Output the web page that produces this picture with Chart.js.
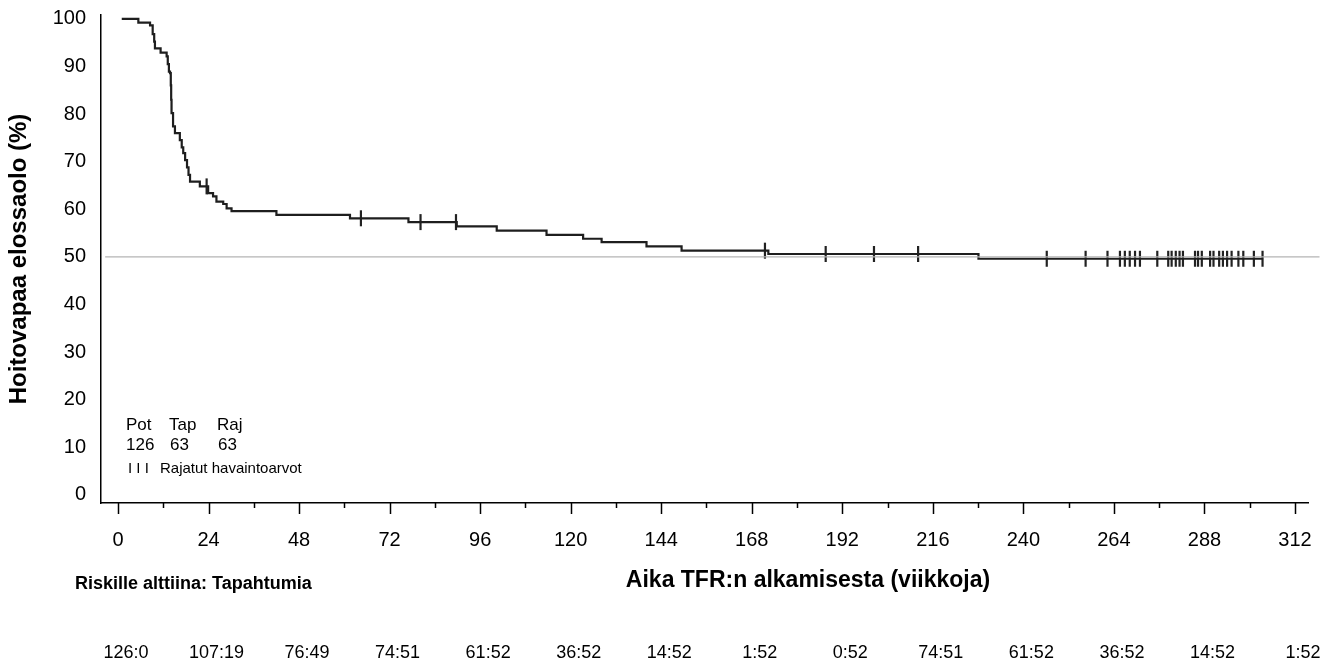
<!DOCTYPE html>
<html>
<head>
<meta charset="utf-8">
<script src="https://cdn.jsdelivr.net/npm/chart.js@4.4.1/dist/chart.umd.min.js"></script>
<style>
  html, body { margin: 0; padding: 0; background: #fff; }
  #wrap { width: 1333px; height: 667px; position: relative; }
</style>
</head>
<body>
<div id="wrap"><canvas id="kmChart"></canvas></div>
<script>
// Kaplan-Meier curve: week where the step lands, survival (%) after it
const stepWeeks = [1, 5.4, 8.5, 9.2, 9.6, 9.8, 11.3, 12.9, 13.2, 13.5, 13.8, 14.0, 14.1, 14.2, 14.6, 15.1,
  16.4, 16.9, 17.3, 17.8, 18.3, 18.7, 19.1, 21.7, 23.9, 25.2, 26.1, 27.9, 28.8, 30.1,
  42.0, 61.5, 77.0, 89.8, 100.4, 113.6, 123.3, 128.2, 140.1, 149.4, 172.4, 228.1, 303.4];
const stepSurvival = [100, 99.2, 98.6, 96.8, 95.2, 93.8, 92.9, 92.1, 90.5, 88.9, 88.6, 86, 83, 80.2, 77.4, 76.0,
  74.5, 73, 71.8, 70.3, 68.8, 67.2, 65.8, 64.8, 63.4, 62.7, 61.6, 61.1, 60.2, 59.6,
  58.8, 58.1, 57.3, 56.4, 55.5, 54.6, 53.8, 53.1, 52.2, 51.3, 50.6, 49.6, 49.6];

// censored observations (weeks)
const censorWeeks = [23.5, 64.4, 80.2, 89.6, 171.5, 187.6, 200.4, 212.1, 246.2, 256.5, 262.3,
  265.6, 266.9, 268.2, 269.6, 270.9, 275.5, 278.4, 279.3, 280.4, 281.4, 282.3,
  285.5, 286.3, 287.3, 289.5, 290.4, 291.9, 292.9, 294.0, 295.2, 297.0, 298.3, 301.1, 303.4];

const xTicks = [0, 24, 48, 72, 96, 120, 144, 168, 192, 216, 240, 264, 288, 312];
const xMinorTicks = [12, 36, 60, 84, 108, 132, 156, 180, 204, 228, 252, 276, 300];
const yTicks = [0, 10, 20, 30, 40, 50, 60, 70, 80, 90, 100];
const refLevel = 50;

// at risk : events, one per x tick
const riskLabels = ['126:0', '107:19', '76:49', '74:51', '61:52', '36:52', '14:52', '1:52',
  '0:52', '74:51', '61:52', '36:52', '14:52', '1:52'];
const legendHeads = ['Pot', 'Tap', 'Raj'];
const legendCounts = ['126', '63', '63'];

const FONT = '"Liberation Sans", Arial, sans-serif';

function survivalAt(t) {
    let s = stepSurvival[0];
    for (let i = 0; i < stepWeeks.length; i++) {
        if (stepWeeks[i] <= t) s = stepSurvival[i];
    }
    return s;
}

const curvePoints = stepWeeks.map((w, i) => ({ x: w, y: stepSurvival[i] }));
const censorPoints = censorWeeks.map(w => ({ x: w, y: survivalAt(w) }));

// ticks, in-plot legend, x title and the at-risk row
const extrasPlugin = {
    id: 'extras',
    afterDraw(chart) {
        const ctx = chart.ctx;
        const xs = chart.scales.x;
        const area = chart.chartArea;
        ctx.save();
        ctx.strokeStyle = '#000';
        ctx.lineWidth = 1.5;
        xTicks.forEach(v => {
            const px = Math.round(xs.getPixelForValue(v)) + 0.5;
            ctx.beginPath();
            ctx.moveTo(px, area.bottom);
            ctx.lineTo(px, area.bottom + 11);
            ctx.stroke();
        });
        xMinorTicks.forEach(v => {
            const px = Math.round(xs.getPixelForValue(v)) + 0.5;
            ctx.beginPath();
            ctx.moveTo(px, area.bottom);
            ctx.lineTo(px, area.bottom + 5);
            ctx.stroke();
        });

        ctx.fillStyle = '#000';
        ctx.textBaseline = 'middle';

        // legend inside the plot
        ctx.textAlign = 'left';
        ctx.font = '17px ' + FONT;
        const colX = [126, 169, 217];
        legendHeads.forEach((t, i) => ctx.fillText(t, colX[i], 425));
        legendCounts.forEach((t, i) => ctx.fillText(t, colX[i] + (i ? 1 : 0), 445));
        ctx.font = '15px ' + FONT;
        ctx.fillText('I I I', 128, 469);
        ctx.fillText('Rajatut havaintoarvot', 160, 469);

        // x axis title
        ctx.textAlign = 'center';
        ctx.font = 'bold 23px ' + FONT;
        ctx.fillText('Aika TFR:n alkamisesta (viikkoja)', 808, 581);

        // at-risk table
        ctx.textAlign = 'left';
        ctx.font = 'bold 18px ' + FONT;
        ctx.fillText('Riskille alttiina: Tapahtumia', 75, 584);
        ctx.textAlign = 'center';
        ctx.font = '18px ' + FONT;
        riskLabels.forEach((t, i) => {
            ctx.fillText(t, xs.getPixelForValue(xTicks[i]) + 8, 653);
        });
        ctx.restore();
    }
};

new Chart(document.getElementById('kmChart'), {
    type: 'line',
    data: {
        datasets: [
            {
                label: 'ref',
                data: [{ x: -3.4, y: refLevel }, { x: 318.5, y: refLevel }],
                borderColor: '#b4b4b4',
                borderWidth: 1.2,
                pointRadius: 0,
                clip: false
            },
            {
                label: 'KM',
                data: curvePoints,
                stepped: true,
                borderColor: '#1e1e1e',
                borderWidth: 2.2,
                pointRadius: 0,
                fill: false
            },
            {
                type: 'scatter',
                label: 'Rajatut',
                data: censorPoints,
                pointStyle: 'line',
                rotation: 90,
                radius: 8,
                borderColor: '#222',
                borderWidth: 2.2,
                showLine: false
            }
        ]
    },
    options: {
        responsive: true,
        maintainAspectRatio: false,
        animation: false,
        layout: { padding: { left: 0, right: 25, top: 15, bottom: 0 } },
        plugins: {
            legend: { display: false },
            tooltip: { enabled: false }
        },
        scales: {
            x: {
                type: 'linear',
                min: -4.5,
                max: 315.45,
                afterBuildTicks: s => { s.ticks = xTicks.map(v => ({ value: v })); },
                afterFit: s => { s.height = 164; s.paddingLeft = 0; s.paddingRight = 0; },
                grid: { display: false, drawTicks: false },
                border: { display: true, color: '#000', width: 1.5 },
                ticks: {
                    color: '#000',
                    font: { family: FONT, size: 20 },
                    padding: 25,
                    maxRotation: 0,
                    autoSkip: false
                }
            },
            y: {
                min: -1.7,
                max: 100.8,
                afterBuildTicks: s => { s.ticks = yTicks.map(v => ({ value: v })); },
                afterFit: s => { s.width = 101; s.paddingTop = 0; s.paddingBottom = 0; },
                grid: { display: false, drawTicks: false },
                border: { display: true, color: '#000', width: 1.5 },
                ticks: {
                    color: '#000',
                    font: { family: FONT, size: 20 },
                    padding: 15
                },
                title: {
                    display: true,
                    text: 'Hoitovapaa elossaolo (%)',
                    color: '#000',
                    font: { family: FONT, size: 24, weight: 'bold' },
                    padding: { top: 5, bottom: 0 }
                }
            }
        }
    },
    plugins: [extrasPlugin]
});
</script>
</body>
</html>
